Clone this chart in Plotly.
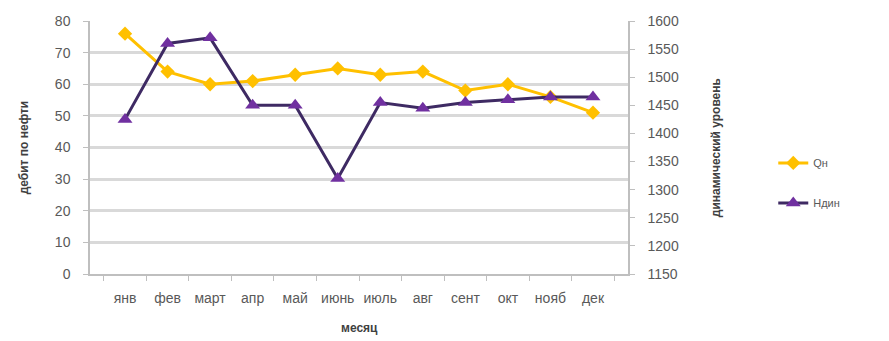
import plotly.graph_objects as go

months = ["янв", "фев", "март", "апр", "май", "июнь", "июль", "авг", "сент", "окт", "нояб", "дек"]
q_oil = [76, 64, 60, 61, 63, 65, 63, 64, 58, 60, 56, 51]
h_dyn = [1425, 1560, 1570, 1450, 1450, 1320, 1455, 1445, 1455, 1460, 1465, 1465]

left_ticks = [0, 10, 20, 30, 40, 50, 60, 70, 80]
right_ticks = [1150, 1200, 1250, 1300, 1350, 1400, 1450, 1500, 1550, 1600]

YELLOW = "#FFC000"
PURPLE_LINE = "#3E2A63"
PURPLE_MARK = "#7030A0"
GRID = "#D9D9D9"
AXIS = "#BFBFBF"
TEXT = "#595959"
FONT = "Liberation Sans"

fig = go.Figure()
fig.add_trace(go.Scatter(
    x=months, y=q_oil, name="Qн", mode="lines+markers",
    line=dict(color=YELLOW, width=3),
    marker=dict(symbol="diamond", size=11, color=YELLOW),
    legendgroup="a",
))
fig.add_trace(go.Scatter(
    x=months, y=h_dyn, name="Hдин", mode="lines+markers", yaxis="y2",
    line=dict(color=PURPLE_LINE, width=3),
    marker=dict(symbol="triangle-up", size=13, color=PURPLE_MARK),
    legendgroup="b",
))

fig.update_layout(
    width=889, height=341,
    margin=dict(l=90, r=261, t=21, b=67),
    paper_bgcolor="white", plot_bgcolor="white",
    font=dict(family=FONT, size=13, color=TEXT),
    showlegend=True,
    legend=dict(
        x=1.27, y=0.36, xanchor="left", yanchor="middle",
        traceorder="grouped", tracegroupgap=21,
        font=dict(size=11, color=TEXT),
        bgcolor="rgba(0,0,0,0)",
    ),
    xaxis=dict(
        type="category", showgrid=False, showline=True, linecolor=AXIS, linewidth=1.5,
        ticks="outside", ticklen=5, tickcolor=AXIS, tickson="boundaries",
        tickfont=dict(size=14, color=TEXT), zeroline=False, ticklabelstandoff=10,
    ),
    yaxis=dict(
        range=[0, 80], tickvals=left_ticks, showgrid=True, gridcolor=GRID, gridwidth=2.5,
        showline=True, linecolor=AXIS, linewidth=1.5, ticks="outside", ticklen=5,
        tickcolor=AXIS, tickfont=dict(size=14, color=TEXT), zeroline=False,
        ticklabelstandoff=10,
    ),
    yaxis2=dict(
        range=[1150, 1600], tickvals=right_ticks, overlaying="y", side="right",
        showgrid=False, showline=True, linecolor=AXIS, linewidth=1.5,
        ticks="outside", ticklen=5, tickcolor=AXIS,
        tickfont=dict(size=14, color=TEXT), zeroline=False, ticklabelstandoff=10,
    ),
    annotations=[
        dict(text="<b>дебит по нефти</b>", xref="paper", yref="paper",
             x=-0.123, y=0.5, textangle=-90, showarrow=False,
             xanchor="center", yanchor="middle", font=dict(size=12, color="#404040")),
        dict(text="<b>динамический уровень</b>", xref="paper", yref="paper",
             x=1.163, y=0.5, textangle=-90, showarrow=False,
             xanchor="center", yanchor="middle", font=dict(size=12, color="#404040")),
        dict(text="<b>месяц</b>", xref="paper", yref="paper",
             x=0.5, y=-0.215, showarrow=False,
             xanchor="center", yanchor="middle", font=dict(size=12, color="#404040")),
    ],
)

fig.write_html("out.html")
